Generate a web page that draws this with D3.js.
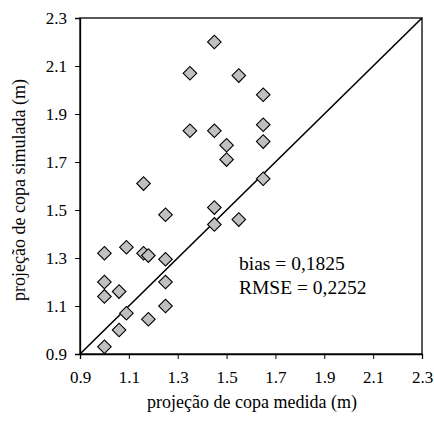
<!DOCTYPE html>
<html>
<head>
<meta charset="utf-8">
<script src="https://cdn.jsdelivr.net/npm/d3@7"></script>
<style>
  html, body { margin: 0; padding: 0; background: #fff; }
  svg { display: block; }
  text { font-family: "Liberation Serif", "Times New Roman", serif; fill: #000; }
</style>
</head>
<body>
<svg id="chart" width="434" height="421"></svg>
<script>
// Data
const measured = [1.00, 1.00, 1.00, 1.00, 1.06, 1.06, 1.09, 1.09, 1.16, 1.18,
                  1.16, 1.18, 1.25, 1.25, 1.25, 1.25, 1.35, 1.35, 1.45, 1.45,
                  1.45, 1.45, 1.50, 1.50, 1.55, 1.55, 1.65, 1.65, 1.65, 1.65];
const simulated = [0.93, 1.14, 1.20, 1.32, 1.00, 1.16, 1.07, 1.345, 1.32, 1.31,
                   1.61, 1.045, 1.10, 1.20, 1.295, 1.48, 1.83, 2.07, 1.44, 1.51,
                   1.83, 2.20, 1.71, 1.77, 1.46, 2.06, 1.63, 1.785, 1.855, 1.98];
const tickValues = [0.9, 1.1, 1.3, 1.5, 1.7, 1.9, 2.1, 2.3];
const lineEnds = [0.9, 2.3];
const statsLines = ["bias = 0,1825", "RMSE = 0,2252"];
const xTitle = "projeção de copa medida (m)";
const yTitle = "projeção de copa simulada (m)";

const svg = d3.select("#chart");
const m = { left: 80, top: 18, right: 12, bottom: 67 };
const W = 434 - m.left - m.right;
const H = 421 - m.top - m.bottom;

const x = d3.scaleLinear().domain([0.9, 2.3]).range([0, W]);
const y = d3.scaleLinear().domain([0.9, 2.3]).range([H, 0]);

const g = svg.append("g").attr("transform", `translate(${m.left},${m.top})`);

// frame
g.append("rect").attr("x", 0).attr("y", 0).attr("width", W).attr("height", H)
  .attr("fill", "none").attr("stroke", "#000").attr("stroke-width", 1.3);

// axes
const xAxis = g.append("g").attr("transform", `translate(0,${H})`)
  .call(d3.axisBottom(x).tickValues(tickValues).tickFormat(d3.format(".1f")).tickSize(5).tickPadding(12));
const yAxis = g.append("g")
  .call(d3.axisLeft(y).tickValues(tickValues).tickFormat(d3.format(".1f")).tickSize(5).tickPadding(8));
[xAxis, yAxis].forEach(a => {
  a.select(".domain").attr("stroke", "#000").attr("stroke-width", 1.3);
  a.selectAll(".tick line").attr("stroke", "#000").attr("stroke-width", 1);
  a.selectAll(".tick text").style("font-family", '"Liberation Serif", serif')
    .style("font-size", "17px").attr("fill", "#000");
});

// 1:1 line
g.append("line")
  .attr("x1", x(lineEnds[0])).attr("y1", y(lineEnds[0]))
  .attr("x2", x(lineEnds[1])).attr("y2", y(lineEnds[1]))
  .attr("stroke", "#000").attr("stroke-width", 1.6);

// points
const pts = measured.map((v, i) => ({ mx: v, sy: simulated[i] }));
const diamond = d3.symbol().type(d3.symbolSquare).size(92);
g.selectAll("path.pt").data(pts).join("path")
  .attr("class", "pt")
  .attr("d", diamond)
  .attr("transform", d => `translate(${x(d.mx)},${y(d.sy)}) rotate(45)`)
  .attr("fill", "#c0c0c0").attr("stroke", "#000").attr("stroke-width", 1.1);

// stats text
const st = svg.append("text").attr("x", 239).attr("y", 270)
  .style("font-size", "19.5px");
statsLines.forEach((t, i) => {
  st.append("tspan").attr("x", 239).attr("dy", i === 0 ? 0 : 23.5).text(t);
});

// titles
svg.append("text").attr("x", 252).attr("y", 408)
  .attr("text-anchor", "middle").style("font-size", "18px").text(xTitle);
svg.append("text")
  .attr("transform", `translate(25,${m.top + H / 2 + 4}) rotate(-90)`)
  .attr("text-anchor", "middle").style("font-size", "18px").text(yTitle);
</script>
</body>
</html>
